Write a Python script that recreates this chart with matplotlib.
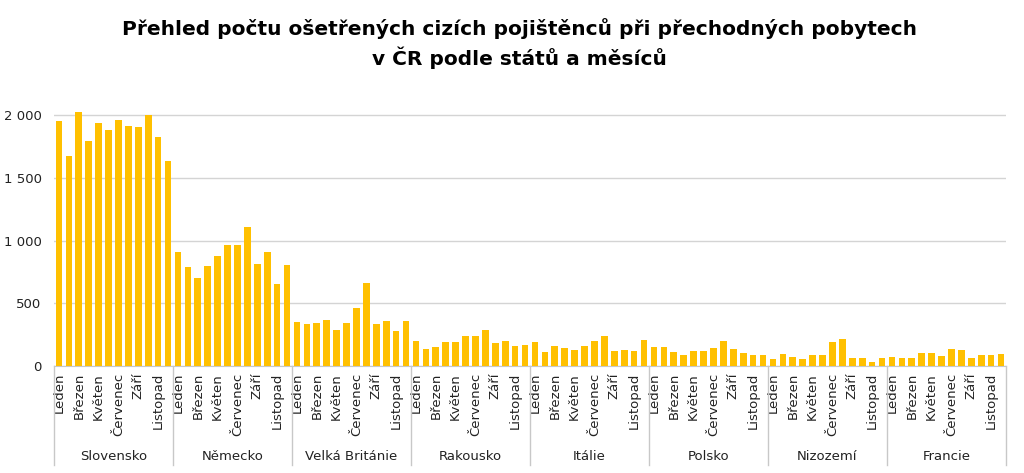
import matplotlib

matplotlib.use("Agg")
import matplotlib.pyplot as plt
import matplotlib.transforms as mtransforms
import numpy as np

COUNTRIES = ["Slovensko", "Německo", "Velká Británie", "Rakousko",
             "Itálie", "Polsko", "Nizozemí", "Francie"]
MONTHS = ["Leden", "Únor", "Březen", "Duben", "Květen", "Červen",
          "Červenec", "Srpen", "Září", "Říjen", "Listopad", "Prosinec"]

slovensko = [1955, 1673, 2024, 1793, 1939, 1880, 1960, 1915, 1904, 2000, 1827, 1636]
nemecko = [905, 790, 705, 800, 880, 965, 965, 1110, 812, 910, 650, 808]
velka_britanie = [350, 335, 345, 370, 285, 340, 460, 660, 335, 355, 280, 355]
rakousko = [200, 132, 148, 190, 190, 240, 238, 283, 183, 196, 156, 167]
italie = [190, 108, 156, 143, 130, 156, 201, 241, 119, 124, 119, 207]
polsko = [148, 153, 108, 85, 119, 119, 143, 196, 132, 103, 85, 85]
nizozemi = [56, 95, 74, 56, 85, 85, 191, 214, 61, 61, 32, 66]
francie = [71, 66, 61, 103, 103, 79, 132, 124, 66, 85, 85, 93]

SERIES = [slovensko, nemecko, velka_britanie, rakousko,
          italie, polsko, nizozemi, francie]

values = np.concatenate(SERIES)
x = np.arange(len(values))
n_month = len(MONTHS)

plt.rcParams["font.family"] = ["DejaVu Sans"]

fig = plt.figure(figsize=(10.24, 4.73), dpi=100)
ax = fig.add_axes([54 / 1024, 0.2262, (1006 - 54) / 1024, 0.770 - 0.2262])

ax.bar(x, values, width=0.68, color="#FFC000", zorder=3, clip_on=False)

ax.set_xlim(-0.5, len(values) - 0.5)
ax.set_ylim(0, 2050)
ax.set_yticks([0, 500, 1000, 1500, 2000])
ax.set_yticklabels(["0", "500", "1 000", "1 500", "2 000"], fontsize=9.5,
                   color="#222222")
ax.grid(axis="y", color="#d4d4d4", lw=1.0, zorder=0)
for side in ("top", "right", "left"):
    ax.spines[side].set_visible(False)
ax.spines["bottom"].set_color("#c8c8c8")
ax.tick_params(axis="y", length=0, pad=9)

# month labels (every other month shown)
ticks = [i for i in x if i % 2 == 0]
ax.set_xticks(ticks)
ax.set_xticklabels([MONTHS[i % n_month] for i in ticks], rotation=90,
                   fontsize=9.5, color="#222222")
ax.tick_params(axis="x", length=0, pad=5)

trans = mtransforms.blended_transform_factory(ax.transData, ax.transAxes)
for g in range(len(COUNTRIES) + 1):
    xs = g * n_month - 0.5
    ax.plot([xs, xs], [0, -0.385], transform=trans, color="#c8c8c8",
            lw=1.0, clip_on=False)
for g, name in enumerate(COUNTRIES):
    ax.text(g * n_month + (n_month - 1) / 2, -0.35, name, transform=trans,
            ha="center", va="center", fontsize=9.5, color="#222222")

fig.text(0.507, 0.940, "Přehled počtu ošetřených cizích pojištěnců při přechodných pobytech",
         ha="center", va="center", fontsize=14.5, fontweight="bold")
fig.text(0.507, 0.877, "v ČR podle států a měsíců",
         ha="center", va="center", fontsize=14.5, fontweight="bold")

fig.savefig("out.png", dpi=100)
